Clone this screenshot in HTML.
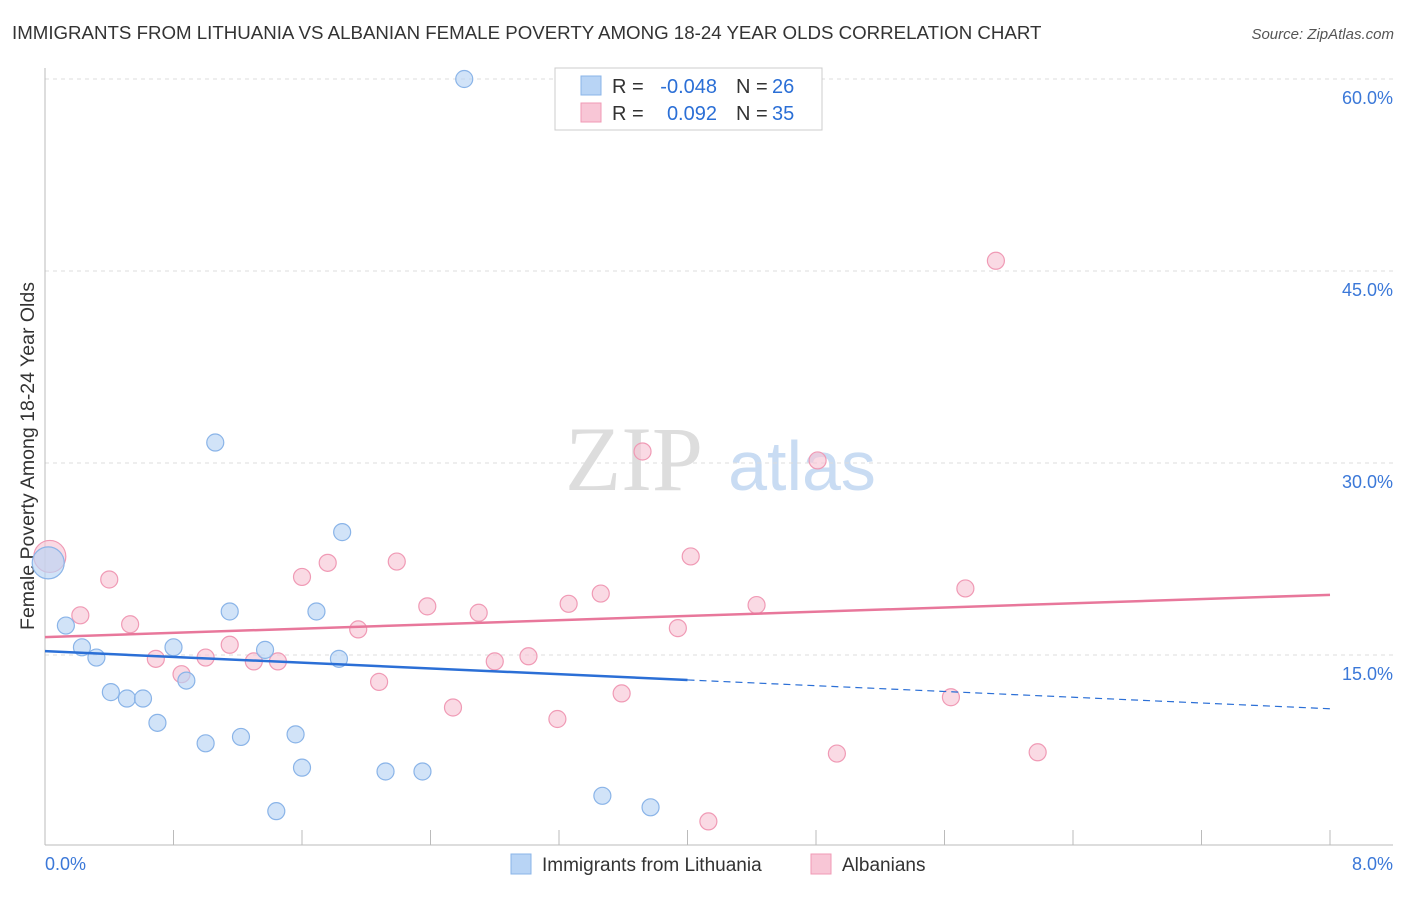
<!DOCTYPE html>
<html><head><meta charset="utf-8"><style>
body{margin:0;background:#fff;font-family:"Liberation Sans",sans-serif;}
</style></head><body>
<svg id="c" width="1406" height="892" xmlns="http://www.w3.org/2000/svg" font-family="Liberation Sans, sans-serif">
<text x="12" y="39" font-size="18.7" fill="#333">IMMIGRANTS FROM LITHUANIA VS ALBANIAN FEMALE POVERTY AMONG 18-24 YEAR OLDS CORRELATION CHART</text>
<text x="1394" y="39" font-size="15" fill="#555" font-style="italic" text-anchor="end">Source: ZipAtlas.com</text>
<text x="634" y="490" font-size="92" fill="#ddd" font-family="Liberation Serif, serif" text-anchor="middle">ZIP</text>
<text x="802" y="490" font-size="70" fill="#c9dcf3" text-anchor="middle">atlas</text>
<text transform="translate(34,456) rotate(-90)" font-size="19.5" fill="#333" text-anchor="middle">Female Poverty Among 18-24 Year Olds</text>
<g id="grid"></g><g id="marks"></g>
<g>
<rect x="555" y="68" width="267" height="62" fill="#fff" stroke="#ccc"/>
<rect x="581" y="76" width="20" height="19" fill="#b8d4f5" stroke="#8ab4e8"/>
<text x="612" y="93" font-size="20" fill="#333">R =</text>
<text x="717" y="93" font-size="20" fill="#2b6fd6" text-anchor="end">-0.048</text>
<text x="736" y="93" font-size="20" fill="#333">N =</text>
<text x="772" y="93" font-size="20" fill="#2b6fd6">26</text>
<rect x="581" y="103" width="20" height="19" fill="#f8c6d6" stroke="#f09ab5"/>
<text x="612" y="120" font-size="20" fill="#333">R =</text>
<text x="717" y="120" font-size="20" fill="#2b6fd6" text-anchor="end">0.092</text>
<text x="736" y="120" font-size="20" fill="#333">N =</text>
<text x="772" y="120" font-size="20" fill="#2b6fd6">35</text>
</g>
<g>
<rect x="511" y="854" width="20" height="20" fill="#b8d4f5" stroke="#8ab4e8"/>
<text x="542" y="871" font-size="19" fill="#333">Immigrants from Lithuania</text>
<rect x="811" y="854" width="20" height="20" fill="#f8c6d6" stroke="#f09ab5"/>
<text x="842" y="871" font-size="19" fill="#333">Albanians</text>
</g>
</svg>
<script>
const yTicks=[15,30,45,60];
const yTickLabels=["15.0%","30.0%","45.0%","60.0%"];
const xTickLabels=["0.0%","8.0%"];
const blueX=[0.02,0.13,0.23,0.32,0.41,0.51,0.61,0.70,0.80,0.88,1.00,1.06,1.15,1.22,1.37,1.44,1.56,1.60,1.69,1.83,1.85,2.12,2.35,2.61,3.47,3.77];
const blueY=[22.2,17.3,15.6,14.8,12.1,11.6,11.6,9.7,15.6,13.0,8.1,31.6,18.4,8.6,15.4,2.8,8.8,6.2,18.4,14.7,24.6,5.9,5.9,60.0,4.0,3.1];
const pinkX=[0.03,0.22,0.40,0.53,0.69,0.85,1.00,1.15,1.30,1.45,1.60,1.76,1.95,2.08,2.19,2.38,2.54,2.70,2.80,3.01,3.19,3.26,3.46,3.59,3.72,3.94,4.02,4.13,4.43,4.81,4.93,5.64,5.73,5.92,6.18];
const pinkY=[22.7,18.1,20.9,17.4,14.7,13.5,14.8,15.8,14.5,14.5,21.1,22.2,17.0,12.9,22.3,18.8,10.9,18.3,14.5,14.9,10.0,19.0,19.8,12.0,30.9,17.1,22.7,2.0,18.9,30.2,7.3,11.7,20.2,45.8,7.4];
const blueTrend=[15.3,10.8];
const pinkTrend=[16.4,19.7];
const X=v=>45+v/8*1285, Y=v=>847-v*12.8;
const NS="http://www.w3.org/2000/svg";
function mk(t,a,p){const e=document.createElementNS(NS,t);for(const k in a)e.setAttribute(k,a[k]);p.appendChild(e);return e;}
const g=document.getElementById('grid'), m=document.getElementById('marks');
yTicks.forEach((t,i)=>{
 const l=mk('line',{x1:45,x2:1393,y1:Y(t),y2:Y(t),stroke:'#ddd','stroke-dasharray':'4,4'},g);
 
 
 const tx=mk('text',{x:1393,y:Y(t)+25,'font-size':18,fill:'#3b78d8','text-anchor':'end'},g);tx.textContent=yTickLabels[i];
 
 
});
mk('line',{x1:45,x2:45,y1:68,y2:845,stroke:'#bbb'},g);
mk('line',{x1:45,x2:1393,y1:845,y2:845,stroke:'#bbb'},g);
for(let i=0;i<=10;i++){mk('line',{x1:X(i*0.8),x2:X(i*0.8),y1:830,y2:845,stroke:'#bbb'},g);}
[0,8].forEach((v,i)=>{const t=mk('text',{x:i?1393:45,y:870,'font-size':18,fill:'#3b78d8','text-anchor':i?'end':'start'},g);t.textContent=xTickLabels[i];
 
 });
function pts(xs,ys,fill,stroke,name){xs.forEach((x,i)=>{const c=mk('circle',{cx:X(x),cy:Y(ys[i]),r:i==0?16:8.5,fill:fill,'fill-opacity':0.65,stroke:stroke,'stroke-width':1.2},m);
 
 });}
pts(pinkX,pinkY,'#f8c6d6','#f09ab5','albanian-point');
pts(blueX,blueY,'#b8d4f5','#8ab4e8','lithuania-point');
const bm=blueTrend[0]+(blueTrend[1]-blueTrend[0])*0.5;
const bl=mk('line',{x1:X(0),y1:Y(blueTrend[0]),x2:X(4),y2:Y(bm),stroke:'#2b6fd6','stroke-width':2.5},m);


const bd=mk('line',{x1:X(4),y1:Y(bm),x2:X(8),y2:Y(blueTrend[1]),stroke:'#2b6fd6','stroke-width':1.2,'stroke-dasharray':'7,5'},m);


const pl=mk('line',{x1:X(0),y1:Y(pinkTrend[0]),x2:X(8),y2:Y(pinkTrend[1]),stroke:'#e8779b','stroke-width':2.5},m);


</script>
</body></html>
